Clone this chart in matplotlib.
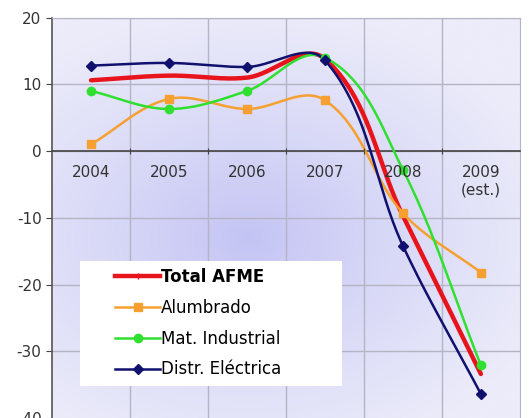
import numpy as np
import matplotlib.pyplot as plt
from matplotlib.patches import Rectangle

plt.rcParams['axes.unicode_minus'] = False
plt.rcParams['font.family'] = ['DejaVu Sans']

years = ['2004', '2005', '2006', '2007', '2008', '2009\n(est.)']
total_afme = [10.6, 11.3, 11.0, 13.8, -9.7, -33.4]
alumbrado = [1.0, 7.8, 6.3, 7.6, -9.3, -18.2]
mat_industrial = [9.0, 6.3, 9.0, 14.0, -2.8, -32.1]
distr_electrica = [12.8, 13.2, 12.6, 13.6, -14.2, -36.4]

# pixels per data unit, used so the smoothing works in screen space
XPX, YPX = 78.0, 6.68


def smooth(x, y, s=0.34, n=40):
    # bezier curve through the points, control arms scaled by segment length
    P = np.column_stack([np.asarray(x, float) * XPX, np.asarray(y, float) * YPX])
    m = len(P)
    d = np.zeros_like(P)
    for i in range(m):
        a = P[max(i - 1, 0)]
        b = P[min(i + 1, m - 1)]
        v = b - a
        d[i] = v / np.hypot(*v)
    t = np.linspace(0, 1, n)[:, None]
    pts = []
    for i in range(m - 1):
        L = np.hypot(*(P[i + 1] - P[i]))
        c1 = P[i] + d[i] * L * s
        c2 = P[i + 1] - d[i + 1] * L * s
        seg = ((1 - t) ** 3 * P[i] + 3 * (1 - t) ** 2 * t * c1
               + 3 * (1 - t) * t ** 2 * c2 + t ** 3 * P[i + 1])
        pts.append(seg)
    pts = np.vstack(pts)
    return pts[:, 0] / XPX, pts[:, 1] / YPX


fig = plt.figure(figsize=(5.31, 4.18), dpi=100)
ax = fig.add_axes([0.098, 0.0, 0.881, 0.958])

# lavender background with a darker centre
gx, gy = np.meshgrid(np.linspace(0, 1, 300), np.linspace(0, 1, 300))
d = np.sqrt(((gx - 0.42) / 0.7) ** 2 + ((gy - 0.55) / 0.6) ** 2)
w = np.clip(1 - d, 0, 1) ** 1.2
edge = np.array([236, 236, 250]) / 255
centre = np.array([196, 196, 244]) / 255
img = edge[None, None, :] * (1 - w[..., None]) + centre[None, None, :] * w[..., None]
ax.imshow(img, extent=[0, 6, -40, 20], aspect='auto', zorder=0, origin='upper')

# grid drawn by hand so the tick labels can sit above the lines
for gxv in range(1, 6):
    ax.axvline(gxv, color='#b4b4c4', lw=1, zorder=1)
for gyv in range(-30, 21, 10):
    ax.axhline(gyv, color='#b4b4c4', lw=1, zorder=1)

xc = np.arange(len(years)) + 0.5

series = [
    ('Total AFME', total_afme, '#e8141c', None, 3.2, 0),
    ('Alumbrado', alumbrado, '#f5a030', 's', 1.8, 6),
    ('Mat. Industrial', mat_industrial, '#30e030', 'o', 1.8, 6),
    ('Distr. Eléctrica', distr_electrica, '#10106e', 'D', 1.8, 5),
]
order = [1, 2, 0, 3]
for k in order:
    name, vals, col, mk, lw, ms = series[k]
    sx, sy = smooth(xc, vals)
    ax.plot(sx, sy, color=col, lw=lw, zorder=3 + k * 0.1, solid_capstyle='round')
    if mk:
        ax.plot(xc, vals, ls='none', marker=mk, color=col, ms=ms, zorder=4)

# legend on a white box
ax.add_patch(Rectangle((0.06, 0.08), 0.56, 0.312, transform=ax.transAxes,
                       facecolor='white', edgecolor='none', zorder=4.9))
handles = []
for name, vals, col, mk, lw, ms in series:
    h, = ax.plot([], [], color=col, lw=lw, marker=mk if mk else '|',
                 ms=ms if mk else 4)
    handles.append(h)
leg = ax.legend(handles, [s[0] for s in series], loc='center left',
                bbox_to_anchor=(0.135, 0.237), fontsize=12, frameon=False,
                handlelength=2.7, handletextpad=0.05, labelspacing=0.77,
                borderpad=0, borderaxespad=0)
leg.get_texts()[0].set_fontweight('bold')
leg.set_zorder(6)

ax.set_xlim(0, 6)
ax.set_ylim(-40, 20)
ax.set_xticks(np.arange(1, 6))
ax.set_xticklabels([])
ax.set_xticks(xc, minor=True)
ax.set_xticklabels(years, minor=True)
ax.tick_params(axis='x', which='minor', length=0, labelsize=11, colors='#333333', pad=10)
ax.tick_params(axis='x', which='major', length=4, direction='inout', color='#444444')
ax.set_yticks([-40, -30, -20, -10, 0, 10, 20])
ax.tick_params(axis='y', length=4, labelsize=11, colors='#333333', color='#444444')
ax.xaxis.set_zorder(5)

ax.spines['bottom'].set_position(('data', 0))
ax.spines['bottom'].set_color('#444444')
ax.spines['bottom'].set_linewidth(1.2)
ax.spines['left'].set_color('#555555')
ax.spines['left'].set_linewidth(1.2)
for s in ('top', 'right'):
    ax.spines[s].set_color('#b4b4c4')

fig.savefig('out.png', dpi=100)
